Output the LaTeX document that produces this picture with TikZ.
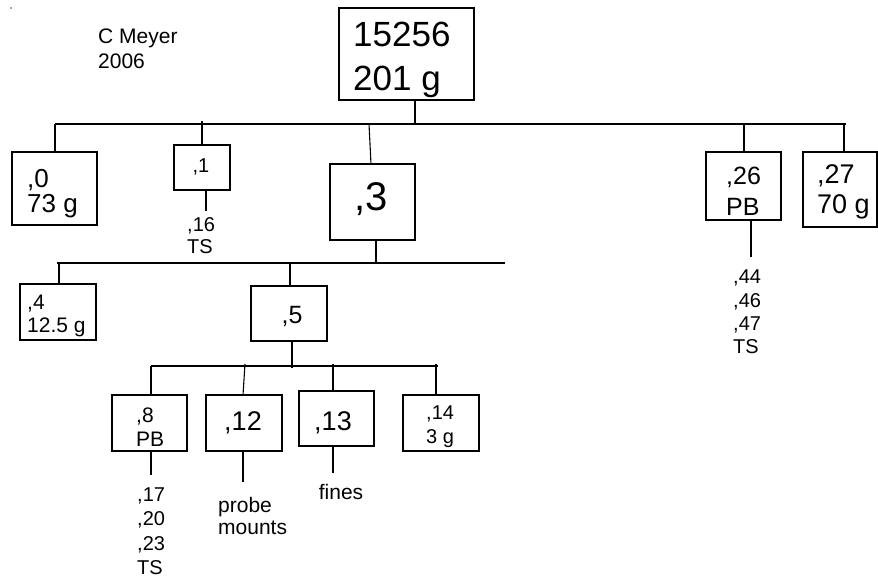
\documentclass[tikz,border=0pt]{standalone}
\usepackage{fontspec}
\setmainfont{Liberation Sans}
\begin{document}
\begin{tikzpicture}[x=1pt,y=-1pt,
  bx/.style={draw, line width=1.1pt, inner sep=0pt},
  tx/.style={inner sep=0pt, align=left},
  ln/.style={line width=1.1pt},
  fs/.style 2 args={font=\fontsize{#1}{#2}\selectfont}]
\useasboundingbox (0,0) rectangle (878,578);
\fill[gray!70] (10,7) rectangle (12,9);

% boxes
\node[bx, minimum width=135, minimum height=92] (root) at (406.5,54) {};
\node[bx, minimum width=85, minimum height=73] (n0) at (54.5,188.5) {};
\node[bx, minimum width=56, minimum height=45] (n1) at (202,167.5) {};
\node[bx, minimum width=85, minimum height=76] (n3) at (372.5,202) {};
\node[bx, minimum width=75, minimum height=68] (n26) at (743.5,186) {};
\node[bx, minimum width=74, minimum height=75] (n27) at (840,189.5) {};
\node[bx, minimum width=76, minimum height=56] (n4) at (58,312) {};
\node[bx, minimum width=76, minimum height=55] (n5) at (289,313.5) {};
\node[bx, minimum width=75, minimum height=56] (n8) at (149.5,423) {};
\node[bx, minimum width=76, minimum height=56] (n12) at (244,423) {};
\node[bx, minimum width=75, minimum height=55] (n13) at (336.5,418.5) {};
\node[bx, minimum width=76, minimum height=56] (n14) at (441,423) {};

% box texts
\node[tx, anchor=west, fs={35}{44}] (rootT) at (353,60) {15256\\201 g};
\node[tx, anchor=west, fs={26}{25}] (n0T) at (27,194) {,0\\73 g};
\node[tx, fs={20}{24}] (n1T) at (201,167) {,1};
\node[tx, fs={40}{46}] (n3T) at (371.5,199) {,3};
\node[tx, anchor=west, fs={25}{31}] (n26T) at (726,191) {,26\\PB};
\node[tx, anchor=west, fs={27}{30}] (n27T) at (817,192) {,27\\70 g};
\node[tx, anchor=west, fs={21}{23}] (n4T) at (27,315.5) {,4\\12.5 g};
\node[tx, fs={25}{30}] (n5T) at (292,316) {,5};
\node[tx, anchor=west, fs={21}{24}] (n8T) at (136,427) {,8\\PB};
\node[tx, fs={27}{32}] (n12T) at (243,423) {,12};
\node[tx, fs={27}{32}] (n13T) at (333,423) {,13};
\node[tx, anchor=west, fs={20}{24}] (n14T) at (426,427) {,14\\3 g};

% free texts
\node[tx, anchor=west, fs={21}{25}] (author) at (98,48.5) {C Meyer\\2006};
\node[tx, anchor=west, fs={20}{22}] (t16) at (187,236) {,16\\TS};
\node[tx, anchor=west, fs={20}{23.4}] (t44) at (733,312) {,44\\,46\\,47\\TS};
\node[tx, anchor=west, fs={20}{24.5}] (t17) at (137,531) {,17\\,20\\,23\\TS};
\node[tx, anchor=west, fs={21}{22}] (tprobe) at (218,516) {probe\\mounts};
\node[tx, fs={21}{25}] (tfines) at (341,492) {fines};

% bus coordinates
\coordinate (b1L) at (55,124);
\coordinate (b1R) at (846,124);
\coordinate (b2L) at (57,263);
\coordinate (b2R) at (505,263);
\coordinate (b3L) at (151,366);
\coordinate (b3R) at (438,366);

\draw[ln] (b1L) -- (b1R);
\draw[ln] (b2L) -- (b2R);
\draw[ln] (b3L) -- (b3R);

% level 1
\draw[ln] (root.south -| 415,0) -- (415,124);
\draw[ln] (b1L) -- (b1L |- n0.north);
\draw[ln] (202,121) -- (n1.north);
\draw[ln] (206,190) -- (206,211);
\draw[ln] (369,124) -- (371,164);
\draw[ln] (744,124) -- (744,152);
\draw[ln] (751,220) -- (751,257);
\draw[ln] (844,124) -- (844,152);
\draw[ln] (376,240) -- (376,263);

% level 2
\draw[ln] (59,263) -- (59,284);
\draw[ln] (290,263) -- (290,286);
\draw[ln] (292,341) -- (292,368);

% level 3
\draw[ln] (b3L) -- (151,395);
\draw[ln] (151,451) -- (151,475);
\draw[ln] (245,364) -- (243,395);
\draw[ln] (243,451) -- (243,482);
\draw[ln] (333,364) -- (333,391);
\draw[ln] (333,446) -- (333,473);
\draw[ln] (436,364) -- (436,395);
\end{tikzpicture}
\end{document}
